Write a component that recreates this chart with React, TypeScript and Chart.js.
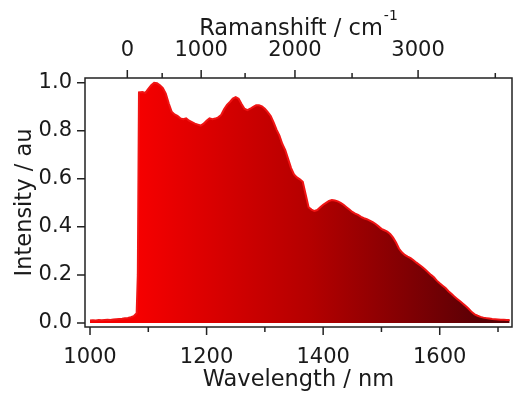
import React, { useEffect, useRef } from "react";
import { Chart, registerables } from "chart.js";

Chart.register(...registerables);

// ---- data ----
const wavelengths = [
  1000, 1005, 1010, 1015, 1020, 1025, 1030, 1035, 1040, 1045, 1050, 1055, 1060, 1065, 1070, 1075, 1080, 1082, 1084,
  1090, 1095, 1100, 1105, 1110, 1115, 1120, 1125, 1130, 1135, 1140, 1145, 1150, 1155, 1160, 1165, 1170, 1175, 1180,
  1185, 1190, 1195, 1200, 1205, 1210, 1215, 1220, 1225, 1230, 1235, 1240, 1245, 1250, 1255, 1260, 1265, 1270, 1275,
  1280, 1285, 1290, 1295, 1300, 1305, 1310, 1315, 1320, 1325, 1330, 1335, 1340, 1345, 1350, 1355, 1360, 1365, 1370,
  1375, 1380, 1385, 1390, 1395, 1400, 1405, 1410, 1415, 1420, 1425, 1430, 1435, 1440, 1445, 1450, 1455, 1460, 1465,
  1470, 1475, 1480, 1485, 1490, 1495, 1500, 1505, 1510, 1515, 1520, 1525, 1530, 1535, 1540, 1545, 1550, 1555, 1560,
  1565, 1570, 1575, 1580, 1585, 1590, 1595, 1600, 1605, 1610, 1615, 1620, 1625, 1630, 1635, 1640, 1645, 1650, 1655,
  1660, 1665, 1670, 1675, 1680, 1685, 1690, 1695, 1700, 1705, 1710, 1715, 1720,
];
const intensities = [
  0.010, 0.011, 0.010, 0.012, 0.011, 0.012, 0.013, 0.012, 0.014, 0.015, 0.016, 0.017, 0.019, 0.021, 0.024, 0.028, 0.040, 0.200, 0.960,
  0.962, 0.958, 0.975, 0.990, 1.000, 0.998, 0.990, 0.978, 0.955, 0.915, 0.880, 0.868, 0.862, 0.852, 0.848, 0.852, 0.842, 0.836, 0.830,
  0.826, 0.822, 0.830, 0.842, 0.852, 0.848, 0.851, 0.856, 0.866, 0.890, 0.908, 0.920, 0.934, 0.940, 0.934, 0.912, 0.892, 0.886, 0.892,
  0.900, 0.906, 0.906, 0.902, 0.892, 0.878, 0.862, 0.835, 0.805, 0.780, 0.745, 0.720, 0.682, 0.645, 0.618, 0.606, 0.598, 0.588, 0.535,
  0.482, 0.472, 0.466, 0.470, 0.482, 0.492, 0.500, 0.508, 0.512, 0.510, 0.506, 0.500, 0.492, 0.482, 0.472, 0.462, 0.455, 0.450, 0.442,
  0.436, 0.432, 0.426, 0.420, 0.412, 0.402, 0.392, 0.386, 0.380, 0.370, 0.355, 0.335, 0.310, 0.294, 0.283, 0.276, 0.270, 0.261, 0.251,
  0.242, 0.233, 0.222, 0.211, 0.200, 0.190, 0.176, 0.165, 0.155, 0.145, 0.132, 0.121, 0.110, 0.100, 0.090, 0.080, 0.069, 0.058, 0.045,
  0.036, 0.030, 0.025, 0.022, 0.020, 0.018, 0.016, 0.015, 0.014, 0.013, 0.013, 0.012, 0.012,
];

const xTickValues = [1000, 1200, 1400, 1600];
const xMinorTickValues = [1100, 1300, 1500, 1700];
const yTickValues = [0, 0.2, 0.4, 0.6, 0.8, 1.0];
const ramanMajorTicks = [0, 1000, 2000, 3000];
const ramanMinorTicks = [500, 1500, 2500, 3500];
const excitationNm = 1064;

const X_MIN = 991.4;
const X_MAX = 1724;
const Y_MIN = -0.017;
const Y_MAX = 1.02;

const ramanToNm = (r: number) => 1e7 / (1e7 / excitationNm - r);

const FONT = "'DejaVu Sans', sans-serif";
const TEXT_COLOR = "#1a1a1a";

const framePlugin = {
  id: "frameAndTicks",
  afterDraw(chart: any) {
    const { ctx, chartArea } = chart;
    const { left, right, top, bottom } = chartArea;
    const xs = chart.scales.x;
    const ys = chart.scales.y;
    const MAJ = 8;
    const MIN = 5;
    ctx.save();
    ctx.strokeStyle = "#222";
    ctx.lineWidth = 1.5;
    ctx.strokeRect(left, top, right - left, bottom - top);
    ctx.beginPath();
    xTickValues.forEach((v) => {
      const p = xs.getPixelForValue(v);
      ctx.moveTo(p, bottom);
      ctx.lineTo(p, bottom + MAJ);
    });
    xMinorTickValues.forEach((v) => {
      const p = xs.getPixelForValue(v);
      ctx.moveTo(p, bottom);
      ctx.lineTo(p, bottom + MIN);
    });
    ramanMajorTicks.forEach((r) => {
      const p = xs.getPixelForValue(ramanToNm(r));
      ctx.moveTo(p, top);
      ctx.lineTo(p, top - MAJ);
    });
    ramanMinorTicks.forEach((r) => {
      const p = xs.getPixelForValue(ramanToNm(r));
      ctx.moveTo(p, top);
      ctx.lineTo(p, top - MIN);
    });
    yTickValues.forEach((v) => {
      const p = ys.getPixelForValue(v);
      ctx.moveTo(left, p);
      ctx.lineTo(left - MAJ, p);
    });
    ctx.stroke();

    // top axis title with superscript
    const main = "Ramanshift / cm";
    const sup = "-1";
    ctx.fillStyle = TEXT_COLOR;
    ctx.textBaseline = "alphabetic";
    ctx.textAlign = "left";
    ctx.font = `22.5px ${FONT}`;
    const wMain = ctx.measureText(main).width;
    ctx.font = `14px ${FONT}`;
    const wSup = ctx.measureText(sup).width;
    const total = wMain + 1 + wSup;
    const cx = (left + right) / 2;
    const x0 = cx - total / 2;
    ctx.font = `22.5px ${FONT}`;
    ctx.fillText(main, x0, 35);
    ctx.font = `14px ${FONT}`;
    ctx.fillText(sup, x0 + wMain + 1, 20);
    ctx.restore();
  },
};

export default function App() {
  const canvasRef = useRef<HTMLCanvasElement | null>(null);

  useEffect(() => {
    const canvas = canvasRef.current;
    if (!canvas) return;
    const points = wavelengths.map((x, i) => ({ x, y: intensities[i] }));
    const tickFont = { family: FONT, size: 21 };
    const titleFont = { family: FONT, size: 22.5 };

    const chart = new Chart(canvas, {
      type: "line",
      data: {
        datasets: [
          {
            data: points,
            fill: "origin",
            borderColor: "rgb(240,20,20)",
            borderWidth: 2,
            pointRadius: 0,
            tension: 0,
            backgroundColor: (c: any) => {
              const ch = c.chart;
              if (!ch.chartArea) return "rgb(200,0,0)";
              const xs = ch.scales.x;
              const g = ch.ctx.createLinearGradient(xs.getPixelForValue(1085), 0, xs.getPixelForValue(1670), 0);
              g.addColorStop(0, "rgb(245,0,0)");
              g.addColorStop(0.5, "rgb(180,0,0)");
              g.addColorStop(1, "rgb(90,0,5)");
              return g;
            },
          },
        ],
      },
      options: {
        animation: false,
        responsive: false,
        devicePixelRatio: 1,
        layout: { padding: { left: 0, right: 2, top: 0, bottom: 0 } },
        plugins: { legend: { display: false }, tooltip: { enabled: false } },
        scales: {
          x: {
            type: "linear",
            position: "bottom",
            min: X_MIN,
            max: X_MAX,
            afterBuildTicks: (s: any) => {
              s.ticks = xTickValues.map((v) => ({ value: v }));
            },
            afterFit: (s: any) => {
              s.height = 67;
            },
            grid: { display: false, drawTicks: false },
            border: { display: false },
            ticks: {
              font: tickFont,
              color: TEXT_COLOR,
              padding: 18,
              maxRotation: 0,
              autoSkip: false,
              callback: (v: any) => String(v),
            },
            title: {
              display: true,
              text: "Wavelength / nm",
              font: titleFont,
              color: TEXT_COLOR,
              padding: { top: 0, bottom: 0.5 },
            },
          },
          x2: {
            type: "linear",
            position: "top",
            min: X_MIN,
            max: X_MAX,
            afterBuildTicks: (s: any) => {
              s.ticks = ramanMajorTicks.map((r) => ({ value: ramanToNm(r) }));
            },
            afterFit: (s: any) => {
              s.height = 78;
            },
            grid: { display: false, drawTicks: false },
            border: { display: false },
            ticks: {
              font: tickFont,
              color: TEXT_COLOR,
              padding: 14.4,
              maxRotation: 0,
              autoSkip: false,
              callback: (_v: any, i: number) => String(ramanMajorTicks[i]),
            },
          },
          y: {
            type: "linear",
            min: Y_MIN,
            max: Y_MAX,
            afterBuildTicks: (s: any) => {
              s.ticks = yTickValues.map((v) => ({ value: v }));
            },
            afterFit: (s: any) => {
              s.width = 85;
            },
            grid: { display: false, drawTicks: false },
            border: { display: false },
            ticks: {
              font: tickFont,
              color: TEXT_COLOR,
              padding: 13,
              autoSkip: false,
              callback: (v: any) => Number(v).toFixed(1),
            },
            title: {
              display: true,
              text: "Intensity / au",
              font: titleFont,
              color: TEXT_COLOR,
              padding: { top: 11.7, bottom: 0 },
            },
          },
        },
      } as any,
      plugins: [framePlugin],
    });
    return () => chart.destroy();
  }, []);

  return (
    <div style={{ position: "fixed", left: 0, top: 0, width: 514, height: 394, background: "#fff" }}>
      <canvas ref={canvasRef} width={514} height={394} style={{ display: "block", width: 514, height: 394 }} />
    </div>
  );
}
